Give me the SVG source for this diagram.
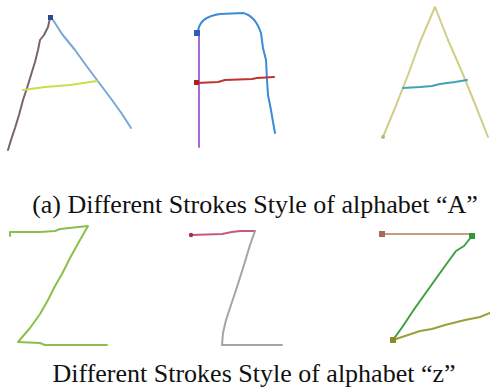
<svg xmlns="http://www.w3.org/2000/svg" width="490" height="388" viewBox="0 0 490 388">
<style>
.s{fill:none;stroke-linecap:round;stroke-linejoin:round;stroke-width:2}
.cap{font-family:"Liberation Serif","Times New Roman",serif;font-size:26px;fill:#111;text-anchor:middle}
</style>
<rect width="490" height="388" fill="#fff"/>
<g id="A1">
<path class="s" stroke="#7a6272" d="M50,18 L48,27 L44,35 L40,40 L38,50 L35,62 L31,75 L27,88 L23,100 L19,115 L15,128 L11,140 L8,150"/>
<path class="s" stroke="#79a8d8" d="M53,20 L62,34 L75,50 L88,68 L100,84 L112,100 L122,114 L131,128"/>
<path class="s" stroke="#c8e04a" stroke-width="2.5" d="M23,90 L45,87 L70,85 L97,81"/>
<rect x="48" y="15" width="5" height="5" fill="#2a4a8a"/>
</g>
<g id="A2">
<path class="s" stroke="#a868d8" d="M199,34 L199,147"/>
<path class="s" stroke="#3d8bd6" stroke-width="2.5" d="M198,33 C198,22 206,16 220,14 L243,13 C252,15 258,24 261,33 L263,48 L266,60 L267,80 L268,95 L271,110 L273,122 L275,133"/>
<path class="s" stroke="#c0342e" d="M197,83 L218,82 L225,80 L252,79 L257,78 L274,77"/>
<rect x="194" y="30" width="6" height="6" fill="#2a5fbf"/>
<rect x="194" y="80" width="5" height="5" fill="#b02020"/>
</g>
<g id="A3">
<path class="s" stroke="#cfcf86" d="M383,137 L395,108 L408,75 L420,42 L435,7 L448,40 L462,72 L475,104 L488,137"/>
<path class="s" stroke="#3fa4b4" stroke-width="2.5" d="M403,88 L420,87 L432,86 L440,84 L455,82 L467,80"/>
<circle cx="383" cy="137" r="2" fill="#b8b878"/>
</g>
<g id="Z1">
<path class="s" stroke="#8ac04a" d="M10,236 L10,232 L40,232 L55,231 L60,229 L88,226 L80,240 L70,258 L62,274 L55,286 L48,300 L40,314 L30,328 L18,342 L40,343 L45,345 L107,345"/>
</g>
<g id="Z2">
<path class="s" stroke="#c65a78" d="M191,235 L222,234 L232,232 L240,231 L255,231"/>
<path class="s" stroke="#a4a4a4" d="M255,231 L250,245 L244,265 L237,287 L231,305 L226,320 L223,333 L222,345 L282,345"/>
<circle cx="191" cy="235" r="2.2" fill="#a03050"/>
</g>
<g id="Z3">
<path class="s" stroke="#c99a84" d="M382,234 L472,234"/>
<path class="s" stroke="#3f9f3f" d="M472,236 L464,246 L456,251 L445,266 L430,287 L415,308 L403,326 L393,340"/>
<path class="s" stroke="#9aa03a" stroke-width="2.5" d="M393,340 L405,336 L420,331 L432,329 L445,325 L453,323 L465,320 L480,317 L490,313"/>
<rect x="379" y="231" width="6" height="6" fill="#a86a58"/>
<rect x="469" y="233" width="6" height="6" fill="#2e9a3a"/>
<rect x="390" y="337" width="6" height="6" fill="#8a8a2a"/>
</g>
<text class="cap" x="255" y="213">(a) Different Strokes Style of alphabet “A”</text>
<text class="cap" x="254" y="382">Different Strokes Style of alphabet “z”</text>
</svg>
